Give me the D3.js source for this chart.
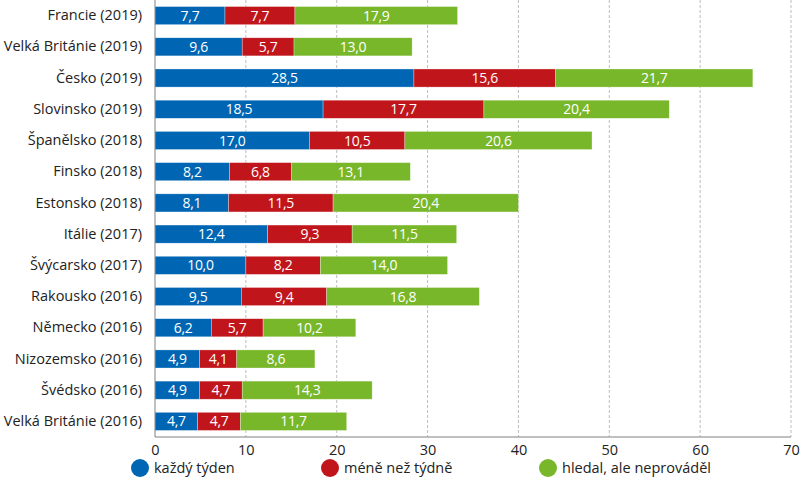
<!DOCTYPE html>
<html><head><meta charset="utf-8">
<script src="https://cdn.jsdelivr.net/npm/d3@7"></script>
<style>body{margin:0;background:#fff}svg{display:block}text{font-family:"Open Sans",sans-serif}</style>
</head><body><svg id="c" width="800" height="480"></svg>
<script>
const categories = ["Francie (2019)","Velká Británie (2019)","Česko (2019)","Slovinsko (2019)","Španělsko (2018)","Finsko (2018)","Estonsko (2018)","Itálie (2017)","Švýcarsko (2017)","Rakousko (2016)","Německo (2016)","Nizozemsko (2016)","Švédsko (2016)","Velká Británie (2016)"];
const kazdyTyden = [7.7,9.6,28.5,18.5,17.0,8.2,8.1,12.4,10.0,9.5,6.2,4.9,4.9,4.7];
const meneNezTydne = [7.7,5.7,15.6,17.7,10.5,6.8,11.5,9.3,8.2,9.4,5.7,4.1,4.7,4.7];
const hledal = [17.9,13.0,21.7,20.4,20.6,13.1,20.4,11.5,14.0,16.8,10.2,8.6,14.3,11.7];
const seriesNames = ["každý týden","méně než týdně","hledal, ale neprováděl"];
const colors = ["#0066b3","#c0161b","#78b72a"];
const xTicks = [0,10,20,30,40,50,60,70];

const svg = d3.select("#c");
const mLeft = 155, mRight = 791, mTop = 0, mBottom = 437;
const x = d3.scaleLinear().domain([0,70]).range([mLeft,mRight]);
const y = d3.scaleBand().domain(categories).range([mTop,mBottom]).paddingInner(0.42).paddingOuter(0.21);

// gridlines
svg.append("g").selectAll("line").data(xTicks.filter(d=>d>0)).join("line")
  .attr("x1",d=>x(d)).attr("x2",d=>x(d)).attr("y1",mTop).attr("y2",mBottom)
  .attr("stroke","#bdbdbd").attr("stroke-dasharray","3,2").attr("stroke-width",1);

const rows = categories.map((c,i)=>({cat:c, vals:[kazdyTyden[i],meneNezTydne[i],hledal[i]]}));
const stack = d3.stack().keys([0,1,2]).value((d,k)=>d.vals[k]);
const stacked = stack(rows);

const g = svg.append("g");
stacked.forEach((layer,k)=>{
  const lg = g.append("g");
  lg.selectAll("rect").data(layer).join("rect")
    .attr("x",d=>x(d[0])).attr("width",d=>x(d[1])-x(d[0]))
    .attr("y",d=>y(d.data.cat)).attr("height",y.bandwidth())
    .attr("fill",colors[k]).attr("stroke","#fff").attr("stroke-opacity",0.5).attr("stroke-width",0.6);
  lg.selectAll("text").data(layer).join("text")
    .attr("x",d=>(x(d[0])+x(d[1]))/2).attr("y",d=>y(d.data.cat)+y.bandwidth()/2)
    .attr("dy","0.36em").attr("text-anchor","middle").attr("fill","#fff").attr("font-size",14)
    .attr("letter-spacing","-0.3")
    .text(d=>d3.format(".1f")(d[1]-d[0]).replace(".",","));
});

// axes
const ya = svg.append("g").attr("transform",`translate(${mLeft},0)`).call(d3.axisLeft(y).tickSize(0).tickPadding(13));
ya.select(".domain").attr("stroke","#808080").attr("d",`M0,${mTop}V${mBottom}`);
ya.selectAll("text").attr("font-size",14.5).attr("fill","#222").style("font-family","'Open Sans',sans-serif");

const xa = svg.append("g").attr("transform",`translate(0,${mBottom})`).call(d3.axisBottom(x).tickValues(xTicks).tickSize(0).tickPadding(8));
xa.select(".domain").attr("stroke","#808080").attr("d",`M${mLeft},0H${mRight}`);
xa.selectAll("text").attr("font-size",14.5).attr("fill","#222").style("font-family","'Open Sans',sans-serif");

// legend
const legX = [140,330,548];
const leg = svg.append("g").selectAll("g").data(seriesNames).join("g")
  .attr("transform",(d,i)=>`translate(${legX[i]},468)`);
leg.append("circle").attr("r",9).attr("fill",(d,i)=>colors[i]);
leg.append("text").attr("x",14).attr("dy","0.36em").attr("font-size",14.5).attr("fill","#222").text(d=>d);
</script></body></html>
